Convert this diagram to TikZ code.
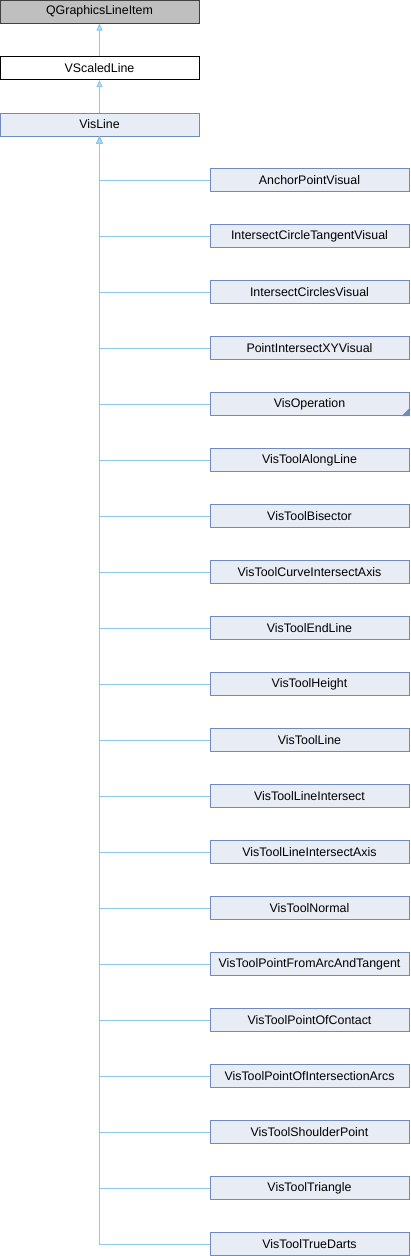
\documentclass[tikz,border=0pt]{standalone}
\usepackage{fontspec}
\setmainfont{Liberation Sans}
\usetikzlibrary{positioning, calc, arrows.meta}

\definecolor{edgeblue}{RGB}{140,200,236}
\definecolor{boxline}{RGB}{112,138,192}
\definecolor{boxfill}{RGB}{232,236,245}
\definecolor{extfill}{RGB}{191,191,191}

\tikzset{
  classbox/.style={draw=boxline, fill=boxfill, line width=1pt, minimum width=199pt, minimum height=23pt,
    inner sep=0pt, font=\fontsize{12.4}{14}\selectfont},
  extbox/.style={classbox, draw=black!75, fill=extfill},
  plainbox/.style={classbox, draw=black, fill=white},
  inherit/.style={draw=edgeblue, line width=1pt, -{Triangle[open, length=7pt, width=6pt, fill=edgeblue!60]}}
}

\begin{document}
\begin{tikzpicture}[x=1pt, y=-1pt]
\useasboundingbox (0,0) rectangle (410,1256);

% Parent chain
\node[extbox] (qline) at (99.5,11.5) {QGraphicsLineItem};
\node[plainbox] (vscaled) at (99.5,68) {VScaledLine};
\node[classbox] (visline) at (99.5,124.5) {VisLine};

\draw[inherit] (vscaled.north) -- (qline.south);
\draw[inherit] (visline.north) -- (vscaled.south);

% Derived classes
\foreach \name [count=\i] in {AnchorPointVisual, IntersectCircleTangentVisual,
    IntersectCirclesVisual, PointIntersectXYVisual, VisOperation, VisToolAlongLine,
    VisToolBisector, VisToolCurveIntersectAxis, VisToolEndLine, VisToolHeight,
    VisToolLine, VisToolLineIntersect, VisToolLineIntersectAxis, VisToolNormal,
    VisToolPointFromArcAndTangent, VisToolPointOfContact,
    VisToolPointOfIntersectionArcs, VisToolShoulderPoint, VisToolTriangle,
    VisToolTrueDarts} {
  \node[classbox] (c\i) at (309.5,{180+56*(\i-1)}) {\name};
  \draw[inherit] (c\i.west) -| (visline.south);
}

% incomplete marker on VisOperation
\fill[boxline] (c5.south east) -- ++(-8,0) -- ++(8,-8) -- cycle;

\end{tikzpicture}
\end{document}
